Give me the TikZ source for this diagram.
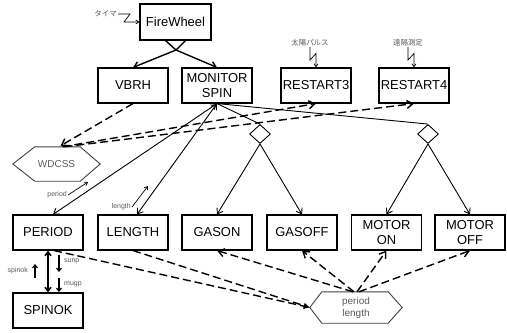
\documentclass[tikz,border=0pt]{standalone}
\usepackage{fontspec}
\setmainfont{Liberation Sans}
\newfontfamily\jpfont{Noto Sans CJK JP}
\usetikzlibrary{arrows.meta,shapes.geometric}

\begin{document}
\begin{tikzpicture}[x=1bp,y=-1bp,
  box/.style={draw,line width=1.1bp,minimum width=70bp,minimum height=35bp,
    inner sep=0pt,align=center,font=\fontsize{13}{15}\selectfont},
  hexbox/.style={minimum height=33bp,inner sep=0pt,align=center,
    text=black!65,font=\fontsize{10}{12}\selectfont},
  hexline/.style={draw=black!75,line width=0.9bp},
  choice/.style={draw,diamond,minimum width=21bp,minimum height=19bp,
    inner sep=0pt,line width=0.9bp},
  flow/.style={line width=0.9bp,-{Straight Barb[length=5bp,width=7bp]}},
  both/.style={line width=0.9bp,{Straight Barb[length=5bp,width=7bp]}-{Straight Barb[length=5bp,width=7bp]}},
  signal/.style={dashed,line width=1.4bp,dash pattern=on 8bp off 4bp,
    -{Straight Barb[length=6bp,width=8bp]}},
  feed/.style={dashed,line width=1.4bp,dash pattern=on 8bp off 4bp,
    -{Latex[length=6bp,width=6bp]}},
  tiny/.style={text=black!65,font=\fontsize{7}{8}\selectfont,inner sep=1bp},
  jp/.style={text=black!65,font=\jpfont\fontsize{7.5}{8}\selectfont,inner sep=1bp}
]
\useasboundingbox (0,0) rectangle (507,332);

  % Bloecke oben
  \node[box,minimum width=71bp,minimum height=36bp] (fw) at (175.5,22) {FireWheel};
  \node[box] (vbrh) at (133,85.5) {VBRH};
  \node[box] (mon)  at (217,85.5) {MONITOR\\SPIN};
  \node[box] (rs3)  at (316,85.5) {RESTART3};
  \node[box] (rs4)  at (414,85.5) {RESTART4};

  % Bloecke unten
  \node[box] (period) at (48,232.5)    {PERIOD};
  \node[box] (length) at (133,232.5)   {LENGTH};
  \node[box] (gason)  at (217,232.5)   {GASON};
  \node[box] (gasoff) at (302,232.5)   {GASOFF};
  \node[box] (moton)  at (386.5,232.5) {MOTOR\\ON};
  \node[box] (motoff) at (470,232.5)   {MOTOR\\OFF};
  \node[box] (spinok) at (48,310.5)    {SPINOK};

  % Auswahl
  \node[choice] (dgas) at (260,134) {};
  \node[choice] (dmot) at (428,134) {};

  % Sechsecke
  \node[hexbox,minimum width=87bp,minimum height=34bp] (wdcss) at (56.5,164) {WDCSS};
  \draw[hexline]
    (wdcss.west) --
    ([xshift=22bp]wdcss.north west) --
    ([xshift=-20bp]wdcss.north east) --
    (wdcss.east) --
    ([xshift=-20bp]wdcss.south east) --
    ([xshift=22bp]wdcss.south west) --
    cycle;

  \node[hexbox,minimum width=92bp,minimum height=31bp] (plen) at (356,307.5) {period\\length};
  \draw[hexline]
    (plen.west) --
    ([xshift=12bp]plen.north west) --
    ([xshift=-14bp]plen.north east) --
    (plen.east) --
    ([xshift=-14bp]plen.south east) --
    ([xshift=12bp]plen.south west) --
    cycle;

  % Ausloeser
  \node[jp,anchor=east] (timer) at (118,14) {タイマ};
  \draw[line width=0.7bp,-{Straight Barb[length=3bp,width=4bp]}]
    (timer.east) -- ++(12,0) -- ++(-6,8) -- (fw.west);

  \node[jp,anchor=south] (sun) at (310,47) {太陽パルス};
  \draw[line width=0.7bp,-{Straight Barb[length=3bp,width=4bp]}]
    (sun.south) -- ++(0,13) -- ([yshift=14bp]rs3.north) -- (rs3.north);

  \node[jp,anchor=south] (tele) at (408,47) {遠隔測定};
  \draw[line width=0.7bp,-{Straight Barb[length=3bp,width=4bp]}]
    (tele.south) -- ++(0,13) -- ([yshift=14bp]rs4.north) -- (rs4.north);

  % Verzweigung FireWheel
  \coordinate (fwx) at (176,50);
  \draw[line width=1.4bp]
    ([xshift=-10bp]fw.south) -- (fwx) -- ([xshift=10bp]fw.south);
  \draw[flow,line width=1.4bp] (fwx) -- (vbrh.north);
  \draw[flow,line width=1.4bp] (fwx) -- (mon.north);

  % WDCSS Signale
  \draw[signal] (vbrh.south) -- ([xshift=4bp,yshift=1bp]wdcss.north);
  \draw[signal] ([xshift=6bp]wdcss.north) -- (rs3.south);
  \draw[signal] ([xshift=8bp]wdcss.north) -- (rs4.south);

  % MONITOR SPIN
  \draw[both] (mon.south) -- ([xshift=5bp]period.north);
  \draw[both] (mon.south) -- ([xshift=4bp]length.north);
  \draw[line width=0.9bp] (mon.south) -- (dgas.north);
  \draw[line width=0.9bp] (mon.south) -- (dmot.north);
  \draw[flow] (dgas.south) -- (gason.north);
  \draw[flow] (dgas.south) -- (gasoff.north);
  \draw[flow] (dmot.south) -- (moton.north);
  \draw[flow] (dmot.south) -- (motoff.north);

  % Daten
  \node[tiny,anchor=east] (lper) at (68,195) {period};
  \draw[line width=0.7bp,-{Straight Barb[length=3bp,width=4bp]}]
    (lper.east) -- ++(20,-13);
  \node[tiny,anchor=east] (llen) at (132,207) {length};
  \draw[line width=0.7bp,-{Straight Barb[length=3bp,width=4bp]}]
    (llen.east) -- ++(16,-21);

  % PERIOD / SPINOK
  \draw[line width=1.5bp,{Straight Barb[length=4bp,width=6bp]}-{Straight Barb[length=4bp,width=6bp]}]
    (period.south) -- (spinok.north);
  \node[tiny,anchor=east] (lspin) at (29,271) {spinok};
  \draw[line width=1.2bp,-{Straight Barb[length=3bp,width=5bp]}]
    (35,278) -- (35,264);
  \node[tiny,anchor=west] (lsunp) at (63,261) {sunp};
  \draw[line width=1.2bp,-{Straight Barb[length=3bp,width=5bp]}]
    (59,255) -- (59,272);
  \node[tiny,anchor=west] (lmugp) at (63,284) {mugp};
  \draw[line width=1.2bp,-{Straight Barb[length=3bp,width=5bp]}]
    (59,278) -- (59,292);

  % period length
  \draw[feed] ([xshift=6bp]period.south) -- (plen.west);
  \draw[feed] (length.south) -- (plen.west);
  \draw[signal] ([xshift=-3bp]plen.north) -- (gason.south);
  \draw[signal] ([xshift=-2bp]plen.north) -- (gasoff.south);
  \draw[signal] ([xshift=1bp]plen.north) -- (moton.south);
  \draw[signal] ([xshift=3bp]plen.north) -- (motoff.south);

\end{tikzpicture}
\end{document}
